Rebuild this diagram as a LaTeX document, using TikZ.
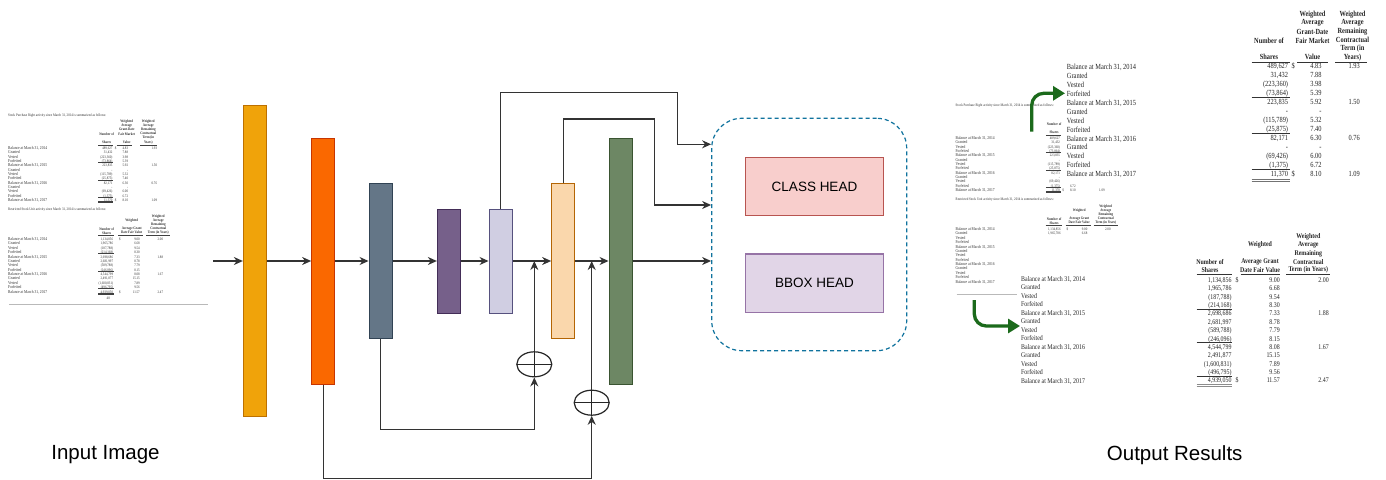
\documentclass[tikz,border=0pt]{standalone}
\usepackage{fontspec}
\setmainfont{Liberation Serif}
\newfontfamily\labelfont{Liberation Sans}
\newfontfamily\docfont[FakeStretch=0.82]{Liberation Serif}
\usepackage{tikz}
\usetikzlibrary{positioning,arrows.meta,shapes.geometric}

\definecolor{amberfill}{HTML}{F0A30A}\definecolor{amberline}{HTML}{BD7000}
\definecolor{orangefill}{HTML}{FA6800}\definecolor{orangeline}{HTML}{C73500}
\definecolor{slatefill}{HTML}{647687}\definecolor{slateline}{HTML}{314354}
\definecolor{violetfill}{HTML}{76608A}\definecolor{violetline}{HTML}{432D57}
\definecolor{lavfill}{HTML}{D0CEE2}\definecolor{lavline}{HTML}{56517E}
\definecolor{peachfill}{HTML}{FAD7AC}\definecolor{peachline}{HTML}{B46504}
\definecolor{olivefill}{HTML}{6D8764}\definecolor{oliveline}{HTML}{3A5431}
\definecolor{clsfill}{HTML}{F8CECC}\definecolor{clsline}{HTML}{B85450}
\definecolor{boxfill}{HTML}{E1D5E7}\definecolor{boxline}{HTML}{9673A6}
\definecolor{headblue}{HTML}{10739E}
\definecolor{arrowgreen}{HTML}{1B6A1B}

% table contents of the scanned page
\newcommand\rowlabels{Balance at March 31{,} 2014,Granted,Vested,Forfeited,Balance at March 31{,} 2015,Granted,Vested,Forfeited,Balance at March 31{,} 2016,Granted,Vested,Forfeited,Balance at March 31{,} 2017}
\newcommand\sprdata{489{,}627/4.83,31{,}432/7.88,(223{,}360)/3.98,(73{,}864)/5.39,223{,}835/5.92,-/-,(115{,}789)/5.32,(25{,}875)/7.40,82{,}171/6.30,-/-,(69{,}426)/6.00,(1{,}375)/6.72,11{,}370/8.10}
\newcommand\rsudata{1{,}134{,}856/9.00,1{,}965{,}786/6.68,(187{,}788)/9.54,(214{,}168)/8.30,2{,}698{,}686/7.33,2{,}681{,}997/8.78,(589{,}788)/7.79,(246{,}096)/8.15,4{,}544{,}799/8.08,2{,}491{,}877/15.15,(1{,}600{,}831)/7.89,(496{,}795)/9.56,4{,}939{,}050/11.57}

% small page; #1 = rows of the second table with figures shown,
% #2 = leading rows of the first table whose value columns are covered
\newcommand\drawdoc[2]{%
  \node[tiny, anchor=mid west] (intro1) at (8,114.3)
    {Stock Purchase Right activity since March 31, 2014 is summarized as follows:};
  \ifnum#2=0
    \foreach \t [count=\k] in {Weighted, Average, Grant-Date, Fair Market}
      \node[tinyb] (sh2-\k) at (126.7,{121.7+(\k-1)*4}) {\t};
    \foreach \t [count=\k] in {Weighted, Average, Remaining, Contractual, Term (in}
      \node[tinyb] (sh3-\k) at (148.3,{121.7+(\k-1)*4}) {\t};
    \node[tinyb] (shv) at (126.7,142.3) {Value};
    \node[tinyb] (shy) at (148.3,142.3) {Years)};
    \draw[docrule] (98.3,145) -- (113.3,145) (116.7,145) -- (131.7,145) (140,145) -- (157.3,145);
  \else
    \draw[docrule] (98.3,145) -- (113.3,145);
  \fi
  \node[tinyb] (sn1) at (106.7,133.7) {Number of};
  \node[tinyb] (sn2) at (106.7,142.3) {Shares};
  \foreach \lab [count=\i] in \rowlabels
    \node[tinyrow, anchor=mid west] (sl\i) at (8,{147.3+(\i-1)*4.33}) {\lab};
  \foreach \sh/\val [count=\i] in \sprdata {
    \node[tiny, anchor=mid east] (ss\i) at (112.7,{147.3+(\i-1)*4.33}) {\sh};
    \ifnum\i>#2
      \node[tiny, anchor=mid east] (sv\i) at (128.3,{147.3+(\i-1)*4.33}) {\val};
    \fi
  }
  \foreach \r/\t in {1/1.93,5/1.50,9/0.76,13/1.09} {
    \ifnum\r>#2
      \node[tiny, anchor=mid east] (st\r) at (157.3,{147.3+(\r-1)*4.33}) {\t};
    \fi
  }
  \foreach \r in {1,13} {
    \ifnum\r>#2
      \node[tiny, anchor=mid west] (sd\r) at (114.6,{147.3+(\r-1)*4.33}) {\$};
    \fi
  }
  \foreach \r in {5,9,13}
    \draw[docrule] (98.3,{147.3+(\r-1)*4.33-2.2}) -- ++(15,0);
  \draw[docrule] (98.3,201.4) -- ++(15,0) (98.3,202.4) -- ++(15,0);
  % restricted stock units
  \node[tiny, anchor=mid west] (intro2) at (8,208.3)
    {Restricted Stock Unit activity since March 31, 2014 is summarized as follows:};
  \node[tinyb] (rh2-1) at (131.7,220.7) {Weighted};
  \node[tinyb] (rh2-2) at (131.7,228.7) {Average Grant};
  \node[tinyb] (rh2-3) at (131.7,232.7) {Date Fair Value};
  \foreach \t [count=\k] in {Weighted, Average, Remaining, Contractual}
    \node[tinyb] (rh3-\k) at (158.3,{216.7+(\k-1)*4}) {\t};
  \node[tinyb] (rh3-5) at (158.3,232.7) {Term (in Years)};
  \node[tinyb] (rn1) at (106.7,228.7) {Number of};
  \node[tinyb] (rn2) at (106.7,232.7) {Shares};
  \draw[docrule] (98,235) -- (114,235) (118,235) -- (143,235) (146,235) -- (170,235);
  \foreach \lab [count=\i] in \rowlabels
    \node[tinyrow, anchor=mid west] (rl\i) at (8,{238.3+(\i-1)*4.37}) {\lab};
  \foreach \sh/\val [count=\i] in \rsudata {
    \ifnum\i>#1\else
      \node[tiny, anchor=mid east] (rs\i) at (113.3,{238.3+(\i-1)*4.37}) {\sh};
      \node[tiny, anchor=mid east] (rv\i) at (140,{238.3+(\i-1)*4.37}) {\val};
    \fi
  }
  \foreach \r/\t in {1/2.00,5/1.88,9/1.67,13/2.47} {
    \ifnum\r>#1\else
      \node[tiny, anchor=mid east] (rt\r) at (163.3,{238.3+(\r-1)*4.37}) {\t};
    \fi
  }
  \foreach \r in {1,13} {
    \ifnum\r>#1\else
      \node[tiny, anchor=mid west] (rd\r) at (119,{238.3+(\r-1)*4.37}) {\$};
    \fi
  }
  \ifnum#1>12
    \foreach \r in {5,9,13}
      \draw[docrule] (98,{238.3+(\r-1)*4.37-2.2}) -- ++(16,0);
    \draw[docrule] (98,292.9) -- ++(16,0) (98,293.9) -- ++(16,0);
  \fi
  \ifnum#2=0
    \node[tiny] (pg) at (108.3,298.3) {48};
    \draw[gray!55, line width=0.8pt] (9,304) -- (208.3,304);
  \else
    \draw[gray!55, line width=0.8pt] (9,304) -- (69.5,304);
  \fi
}

\begin{document}
\begin{tikzpicture}[
    x=1pt, y=-1pt,
    conn/.style={draw=black!80, line width=1.2pt, -{Stealth[length=9pt,width=8pt]}},
    bar/.style={line width=1pt, minimum width=23.3pt, inner sep=0},
    head/.style={line width=1.1pt, minimum width=137.6pt, minimum height=58.4pt,
                 font=\labelfont\fontsize{13.5}{16}\selectfont},
    adder/.style={ellipse, draw=black!85, line width=1.2pt, fill=white, inner sep=0,
                  minimum width=35pt, minimum height=25pt,
                  path picture={\draw[black!85, line width=1.2pt]
                    (path picture bounding box.west) -- (path picture bounding box.east)
                    (path picture bounding box.north) -- (path picture bounding box.south);}},
    caption/.style={font=\labelfont\fontsize{20.5}{24}\selectfont, inner sep=0},
    tiny/.style={font=\docfont\fontsize{3.8}{4.2}\selectfont, inner sep=0, text=black!80},
    tinyb/.style={tiny, font=\docfont\bfseries\fontsize{3.8}{4.2}\selectfont},
    tinyrow/.style={tiny, font=\docfont\fontsize{4.4}{4.6}\selectfont},
    docrule/.style={draw=black!75, line width=0.45pt},
    big/.style={font=\docfont\fontsize{7.8}{9}\selectfont, inner sep=0, text=black!85},
    bigb/.style={big, font=\docfont\bfseries\fontsize{7.8}{9}\selectfont},
    small/.style={font=\docfont\fontsize{7.2}{8.4}\selectfont, inner sep=0, text=black!85},
    smallb/.style={small, font=\docfont\bfseries\fontsize{7.2}{8.4}\selectfont},
    bigrule/.style={draw=black!80, line width=1pt},
    garrow/.style={draw=arrowgreen, line width=3.3pt, rounded corners=12pt,
                   -{Triangle[length=12pt,width=14pt]}},
  ]
  \path[use as bounding box, fill=white] (0,0) rectangle (1386,479);

  % input page
  \drawdoc{13}{0}
  \node[caption] (inlbl) at (105.5,455) {Input Image};

  % network
  \node[bar, fill=amberfill, draw=amberline, minimum height=311pt]     (enc1) at (255,261) {};
  \node[bar, fill=orangefill, draw=orangeline, minimum height=246pt]   (enc2) at (323.3,261) {};
  \node[bar, fill=slatefill, draw=slateline, minimum height=155.3pt]   (enc3) at (380.7,261) {};
  \node[bar, fill=violetfill, draw=violetline, minimum height=104pt]   (neck) at (449,261) {};
  \node[bar, fill=lavfill, draw=lavline, minimum height=104pt]         (dec1) at (500.7,261) {};
  \node[bar, fill=peachfill, draw=peachline, minimum height=155pt]     (dec2) at (563.3,261) {};
  \node[bar, fill=olivefill, draw=oliveline, minimum height=246pt]     (dec3) at (620.7,261) {};

  \node[adder] (add1) at (534.3,364.3) {};
  \node[adder] (add2) at (591.7,402.7) {};

  \node[draw=headblue, line width=1.2pt, dash pattern=on 4pt off 3pt, rounded corners=30pt,
        minimum width=195pt, minimum height=232.4pt] (heads) at (809.2,234.5) {};
  \node[head, fill=clsfill, draw=clsline] (cls)  at (814.5,186.5) {CLASS HEAD};
  \node[head, fill=boxfill, draw=boxline] (bbox) at (814.5,283.2) {BBOX HEAD};

  \coordinate (src) at (213,261);
  \draw[conn] (src) -- (enc1);
  \foreach \a/\b in {enc1/enc2, enc2/enc3, enc3/neck, neck/dec1, dec1/dec2, dec2/dec3}
    \draw[conn] (\a) -- (\b);
  \draw[conn] (dec3.east) -- (dec3.east -| heads.west);
  \draw[conn] (dec1.north) |- (677.7,92.7) |- ([yshift=90.2pt]heads.west);
  \draw[conn] (dec2.north) |- (654.3,119) |- ([yshift=29.5pt]heads.west);
  \draw[conn] (enc3.south) -- ++(0,90.7) -| (add1.south);
  \draw[conn] (add1.north) -- (add1 |- enc1.center);
  \draw[conn] (enc2.south) -- ++(0,94) -| (add2.south);
  \draw[conn] (add2.north) -- (add2 |- enc1.center);

  % output page with enlarged crops
  \begin{scope}[shift={(947.5,-10)}, name prefix=out-]
    \drawdoc{2}{11}
  \end{scope}

  \foreach \lab [count=\i] in \rowlabels
    \node[big, anchor=mid west] (za\i) at (1066.7,{67.7+(\i-1)*8.88}) {\lab};

  \foreach \t [count=\k] in {Weighted, Average, Grant-Date, Fair Market}
    \node[bigb] (bh2-\k) at (1312.5,{14.3+(\k-1)*8.8}) {\t};
  \node[bigb] (bh2-5) at (1312.5,57.3) {Value};
  \foreach \t [count=\k] in {Weighted, Average, Remaining, Contractual, Term (in, Years)}
    \node[bigb] (bh3-\k) at (1352.5,{14.3+(\k-1)*8.6}) {\t};
  \node[bigb] (bn1) at (1269,40.7) {Number of};
  \node[bigb] (bn2) at (1269,57.3) {Shares};
  \draw[bigrule] (1251.7,62.7) -- (1290,62.7) (1297.3,62.7) -- (1328.3,62.7) (1335,62.7) -- (1366.7,62.7);
  \foreach \sh/\val [count=\i] in \sprdata {
    \node[big, anchor=mid east] (bs\i) at (1288.3,{66.7+(\i-1)*8.97}) {\sh};
    \node[big, anchor=mid east] (bv\i) at (1321.7,{66.7+(\i-1)*8.97}) {\val};
  }
  \foreach \r/\t in {1/1.93,5/1.50,9/0.76,13/1.09}
    \node[big, anchor=mid east] (bt\r) at (1360,{66.7+(\r-1)*8.97}) {\t};
  \foreach \r in {1,13}
    \node[big, anchor=mid west] (bd\r) at (1291.3,{66.7+(\r-1)*8.97}) {\$};
  \foreach \r in {5,9,13}
    \draw[bigrule] (1251.7,{66.7+(\r-1)*8.97-4.6}) -- ++(38.3,0);
  \draw[bigrule, black!55] (1251.7,179.6) -- ++(38.3,0) (1251.7,181.6) -- ++(38.3,0);

  \foreach \lab [count=\i] in \rowlabels
    \node[small, anchor=mid west] (zc\i) at (1021,{279+(\i-1)*8.5}) {\lab};

  \node[smallb] (dh2-1) at (1260,245) {Weighted};
  \node[smallb] (dh2-2) at (1260,262.3) {Average Grant};
  \node[smallb] (dh2-3) at (1260,270) {Date Fair Value};
  \foreach \t [count=\k] in {Weighted, Average, Remaining, Contractual}
    \node[smallb] (dh3-\k) at (1308.3,{236.7+(\k-1)*8.5}) {\t};
  \node[smallb] (dh3-5) at (1308.3,270) {Term (in Years)};
  \node[smallb] (dn1) at (1210,262.3) {Number of};
  \node[smallb] (dn2) at (1210,270) {Shares};
  \draw[bigrule] (1196.7,274) -- (1231.7,274) (1240.7,274) -- (1280,274) (1286,274) -- (1330,274);
  \foreach \sh/\val [count=\i] in \rsudata {
    \node[small, anchor=mid east] (ds\i) at (1231.7,{280+(\i-1)*8.39}) {\sh};
    \node[small, anchor=mid east] (dv\i) at (1280,{280+(\i-1)*8.39}) {\val};
  }
  \foreach \r/\t in {1/2.00,5/1.88,9/1.67,13/2.47}
    \node[small, anchor=mid east] (dt\r) at (1329,{280+(\r-1)*8.39}) {\t};
  \foreach \r in {1,13}
    \node[small, anchor=mid west] (dd\r) at (1235.5,{280+(\r-1)*8.39}) {\$};
  \foreach \r in {5,9,13}
    \draw[bigrule] (1196.7,{280+(\r-1)*8.39-4.3}) -- ++(35,0);
  \draw[bigrule, black!45] (1196.7,384.5) -- ++(35,0) (1196.7,386.5) -- ++(35,0);

  \node[caption] (outlbl) at (1174.7,455) {Output Results};

  % zoom pointers
  \coordinate (g1s) at (1031.7,131.7);
  \coordinate (g1e) at (1065,93.3);
  \draw[garrow] (g1s) |- (g1e);
  \coordinate (g2s) at (974.3,300);
  \coordinate (g2e) at (1020,326);
  \draw[garrow] (g2s) |- (g2e);
\end{tikzpicture}
\end{document}
